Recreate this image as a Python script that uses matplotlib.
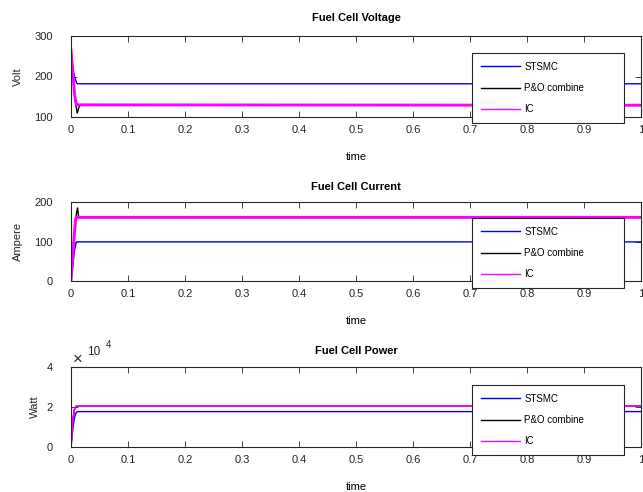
import numpy as np
import matplotlib
matplotlib.use('Agg')
import matplotlib.pyplot as plt
from matplotlib.ticker import FuncFormatter

plt.rcParams['font.family'] = ['Liberation Sans', 'DejaVu Sans']

# данные
labels = ['STSMC', 'P&O combine', 'IC']
colors = ['#0000ff', '#000000', '#ff00ff']

# напряжение
t_v_st = [0, 0.002, 0.004, 0.006, 0.007, 0.008, 0.010, 0.012, 1.0]
v_st = [265, 238, 214, 200, 198, 192, 184, 182, 182]
t_v_po = [0, 0.002, 0.004, 0.006, 0.008, 0.010, 0.011, 0.012, 0.014, 0.016, 1.0]
v_po = [265, 230, 195, 160, 135, 118, 110, 114, 124, 129, 129]
t_v_ic = [0, 0.002, 0.004, 0.006, 0.008, 0.009, 0.010, 1.0]
v_ic = [265, 230, 195, 160, 140, 133, 130, 129]

# ток
t_i_st = [0, 0.002, 0.004, 0.006, 0.008, 0.009, 0.010, 1.0]
i_st = [0, 25, 50, 76, 90, 96, 99, 99]
t_i_po = [0, 0.002, 0.004, 0.006, 0.008, 0.010, 0.0115, 0.013, 0.015, 1.0]
i_po = [0, 40, 80, 122, 155, 175, 185, 166, 161, 161]
t_i_ic = [0, 0.002, 0.004, 0.006, 0.008, 0.009, 1.0]
i_ic = [0, 40, 80, 122, 155, 161, 161]

# мощность
t_p_st = [0, 0.002, 0.004, 0.006, 0.008, 0.010, 0.012, 1.0]
p_st = [0, 6000, 10500, 14500, 16600, 17400, 17700, 17700]
t_p_po = [0, 0.002, 0.004, 0.006, 0.008, 0.010, 0.012, 0.014, 1.0]
p_po = [0, 9000, 15000, 18800, 20000, 20200, 20000, 20400, 20400]
t_p_ic = [0, 0.002, 0.004, 0.006, 0.008, 0.010, 1.0]
p_ic = [0, 9000, 15000, 18800, 20200, 20500, 20500]

titles = ['Fuel Cell Voltage', 'Fuel Cell Current', 'Fuel Cell Power']
ylabels = ['Volt', 'Ampere', 'Watt']
ylims = [(100, 300), (0, 200), (0, 40000)]
yticks = [[100, 200, 300], [0, 100, 200], [0, 20000, 40000]]
xticks = [0, 0.1, 0.2, 0.3, 0.4, 0.5, 0.6, 0.7, 0.8, 0.9, 1]

series = [
    [(t_v_st, v_st), (t_v_po, v_po), (t_v_ic, v_ic)],
    [(t_i_st, i_st), (t_i_po, i_po), (t_i_ic, i_ic)],
    [(t_p_st, p_st), (t_p_po, p_po), (t_p_ic, p_ic)],
]
ic_width = [2.1, 2.1, 1.3]

fig = plt.figure(figsize=(6.43, 4.92), dpi=100)
W, H = 643.0, 492.0
ax_px = [(36, 117), (202, 281), (367, 447)]
leg_px = [53, 218, 385]
title_pad = [11, 9, 9]
gray = '#262626'

for k in range(3):
    top, bot = ax_px[k]
    ax = fig.add_axes([71 / W, 1 - bot / H, 570 / W, (bot - top) / H])
    lines = []
    for j in range(3):
        tt, yy = series[k][j]
        lw = ic_width[k] if j == 2 else 1.0
        ln, = ax.plot(tt, yy, color=colors[j], lw=lw, label=labels[j])
        lines.append(ln)
    ax.set_xlim(0, 1)
    ax.set_ylim(*ylims[k])
    ax.set_xticks(xticks)
    ax.set_xticklabels(['0', '0.1', '0.2', '0.3', '0.4', '0.5', '0.6', '0.7', '0.8', '0.9', '1'])
    ax.set_yticks(yticks[k])
    if k == 2:
        ax.yaxis.set_major_formatter(FuncFormatter(lambda v, p: '%g' % (v / 1e4)))
    ax.tick_params(direction='in', top=True, right=True, length=4, width=0.6,
                   labelsize=8, colors=gray)
    ax.tick_params(axis='x', pad=6)
    ax.tick_params(axis='y', pad=13)
    for s in ax.spines.values():
        s.set_color(gray)
        s.set_linewidth(0.8)
    ax.set_title(titles[k], fontsize=8, fontweight='bold', pad=title_pad[k])
    ax.set_xlabel('time', fontsize=8, labelpad=12)
    ax.set_ylabel(ylabels[k], fontsize=8, color=gray, labelpad=8 if k < 2 else 5)

    leg = fig.legend(handles=lines, labels=labels,
                     loc='upper left', bbox_to_anchor=(472 / W, 1 - leg_px[k] / H, 152 / W, 0),
                     mode='expand', borderaxespad=0, fontsize=7, handlelength=4.0,
                     handletextpad=0.5, labelspacing=1.15, borderpad=0.9,
                     fancybox=False, framealpha=1, edgecolor=gray)
    leg.get_frame().set_linewidth(0.8)
    for h in leg.legend_handles:
        h.set_linewidth(1.0)

# множитель x10^4 у оси мощности
fig.text(78 / W, 1 - 359 / H, '\u00d7', fontsize=12, ha='center', va='center', color=gray)
fig.text(87 / W, 1 - 352 / H, '10', fontsize=8.5, ha='left', va='center', color=gray)
fig.text(106 / W, 1 - 345 / H, '4', fontsize=7, ha='left', va='center', color=gray)

fig.savefig('out.png', dpi=100)
